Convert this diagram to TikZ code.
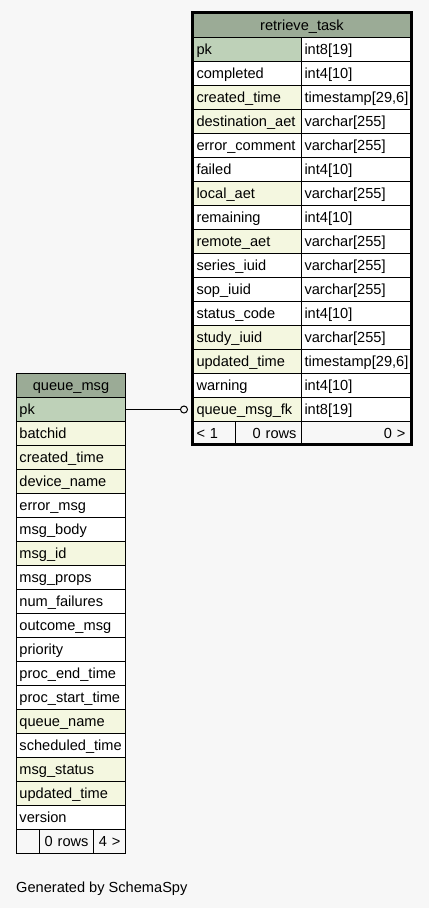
\documentclass[tikz,border=0pt]{standalone}
\usepackage{fontspec}
\setmainfont{Liberation Sans}

\definecolor{pagebg}{HTML}{F7F7F7}
\definecolor{headbg}{HTML}{9BAB96}
\definecolor{pkbg}{HTML}{BED1B8}
\definecolor{idxbg}{HTML}{F4F7E0}

\tikzset{
  cell/.style={draw=black, line width=1pt, rectangle, anchor=north west,
    minimum height=24pt, inner xsep=3pt, inner ysep=0pt, outer sep=0pt,
    text height=12pt, text depth=2.5pt, font=\fontsize{14.6}{16}\selectfont},
  headcell/.style={cell, fill=headbg, align=center},
  namecell/.style={cell, fill=white, align=left},
  rightcell/.style={cell, inner xsep=5pt, align=right},
  pkcell/.style={fill=pkbg},
  idxcell/.style={fill=idxbg}
}

\begin{document}
\begin{tikzpicture}[x=1pt, y=-1pt]

        \fill[pagebg] (0,0) rectangle (429,908);

        % retrieve_task
        \begin{scope}[every node/.style={namecell, text width=102pt}]
          \node[headcell, text width=211pt] (rt) at (193.5,13.5) {retrieve\_task};
          \node[pkcell]  (rt1)  at (193.5,37.5)  {pk};
          \node          (rt2)  at (193.5,61.5)  {completed};
          \node[idxcell] (rt3)  at (193.5,85.5)  {created\_time};
          \node[idxcell] (rt4)  at (193.5,109.5) {destination\_aet};
          \node          (rt5)  at (193.5,133.5) {error\_comment};
          \node          (rt6)  at (193.5,157.5) {failed};
          \node[idxcell] (rt7)  at (193.5,181.5) {local\_aet};
          \node          (rt8)  at (193.5,205.5) {remaining};
          \node[idxcell] (rt9)  at (193.5,229.5) {remote\_aet};
          \node          (rt10) at (193.5,253.5) {series\_iuid};
          \node          (rt11) at (193.5,277.5) {sop\_iuid};
          \node          (rt12) at (193.5,301.5) {status\_code};
          \node[idxcell] (rt13) at (193.5,325.5) {study\_iuid};
          \node[idxcell] (rt14) at (193.5,349.5) {updated\_time};
          \node          (rt15) at (193.5,373.5) {warning};
          \node[idxcell] (rt16) at (193.5,397.5) {queue\_msg\_fk};
        \end{scope}

        \begin{scope}[every node/.style={namecell, text width=103pt}]
          \node (rt1t)  at (301.5,37.5)  {int8[19]};
          \node (rt2t)  at (301.5,61.5)  {int4[10]};
          \node (rt3t)  at (301.5,85.5)  {timestamp[29,6]};
          \node (rt4t)  at (301.5,109.5) {varchar[255]};
          \node (rt5t)  at (301.5,133.5) {varchar[255]};
          \node (rt6t)  at (301.5,157.5) {int4[10]};
          \node (rt7t)  at (301.5,181.5) {varchar[255]};
          \node (rt8t)  at (301.5,205.5) {int4[10]};
          \node (rt9t)  at (301.5,229.5) {varchar[255]};
          \node (rt10t) at (301.5,253.5) {varchar[255]};
          \node (rt11t) at (301.5,277.5) {varchar[255]};
          \node (rt12t) at (301.5,301.5) {int4[10]};
          \node (rt13t) at (301.5,325.5) {varchar[255]};
          \node (rt14t) at (301.5,349.5) {timestamp[29,6]};
          \node (rt15t) at (301.5,373.5) {int4[10]};
          \node (rt16t) at (301.5,397.5) {int8[19]};
        \end{scope}

        \node[cell, text width=36pt, align=left] (rtf1) at (193.5,421.5) {< 1};
        \node[rightcell, text width=56pt] (rtf2) at (235.5,421.5) {0 rows};
        \node[rightcell, text width=99pt] (rtf3) at (301.5,421.5) {0 >};

        \draw[line width=3pt] ([shift={(-1.5,-1.5)}]rt.north west)
          rectangle ([shift={(1,-1)}]rtf3.south east);

        % queue_msg
        \begin{scope}[every node/.style={namecell, text width=103pt}]
          \node[headcell] (qm) at (16.5,373.5) {queue\_msg};
          \node[pkcell]  (qm1)  at (16.5,397.5) {pk};
          \node[idxcell] (qm2)  at (16.5,421.5) {batchid};
          \node[idxcell] (qm3)  at (16.5,445.5) {created\_time};
          \node[idxcell] (qm4)  at (16.5,469.5) {device\_name};
          \node          (qm5)  at (16.5,493.5) {error\_msg};
          \node          (qm6)  at (16.5,517.5) {msg\_body};
          \node[idxcell] (qm7)  at (16.5,541.5) {msg\_id};
          \node          (qm8)  at (16.5,565.5) {msg\_props};
          \node          (qm9)  at (16.5,589.5) {num\_failures};
          \node          (qm10) at (16.5,613.5) {outcome\_msg};
          \node          (qm11) at (16.5,637.5) {priority};
          \node          (qm12) at (16.5,661.5) {proc\_end\_time};
          \node          (qm13) at (16.5,685.5) {proc\_start\_time};
          \node[idxcell] (qm14) at (16.5,709.5) {queue\_name};
          \node          (qm15) at (16.5,733.5) {scheduled\_time};
          \node[idxcell] (qm16) at (16.5,757.5) {msg\_status};
          \node[idxcell] (qm17) at (16.5,781.5) {updated\_time};
          \node          (qm18) at (16.5,805.5) {version};
        \end{scope}

        \node[cell, text width=17pt] (qmf1) at (16.5,829.5) {};
        \node[rightcell, text width=44pt] (qmf2) at (39.5,829.5) {0 rows};
        \node[rightcell, text width=22pt] (qmf3) at (93.5,829.5) {4 >};

        % foreign key
        \node[circle, draw, line width=1pt, fill=pagebg, minimum size=7pt,
          inner sep=0pt] (fkdot) at (184,409.5) {};
        \draw[line width=1pt] (qm1.east) -- (fkdot.west);

        \node[anchor=base west, inner sep=0pt, font=\fontsize{14.6}{16}\selectfont]
          (credit) at (16,892) {Generated by SchemaSpy};

      \end{tikzpicture}
\end{document}
